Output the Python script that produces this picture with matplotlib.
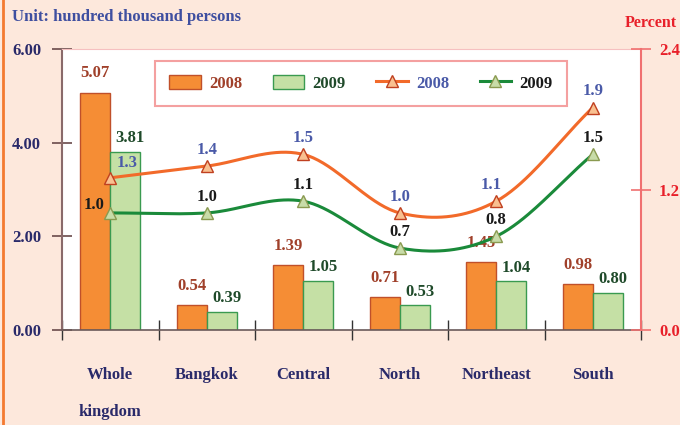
import numpy as np
import matplotlib
matplotlib.use("Agg")
import matplotlib.pyplot as plt
from matplotlib.patches import Patch
from matplotlib.lines import Line2D

regions = ["Whole\nkingdom", "Bangkok", "Central", "North", "Northeast", "South"]
persons_2008 = [5.07, 0.54, 1.39, 0.71, 1.45, 0.98]
persons_2009 = [3.81, 0.39, 1.05, 0.53, 1.04, 0.80]
pct_2008 = [1.3, 1.4, 1.5, 1.0, 1.1, 1.9]
pct_2009 = [1.0, 1.0, 1.1, 0.7, 0.8, 1.5]

plt.rcParams['font.family'] = ['Liberation Serif', 'DejaVu Serif']
plt.rcParams['font.weight'] = 'bold'

bg = '#fde8dc'
orange = '#f58d35'
orange_edge = '#c0502a'
green = '#c5e0a5'
green_edge = '#3a9a50'
navy = '#2a2a6a'
red = '#e8202a'
c08_txt = '#a0402a'
c09_txt = '#1f4a2a'
blue_txt = '#4a5aa8'
fs = 12


def smooth(xs, ys, n=40):
    # catmull-rom through the points (as excel smoothed lines)
    p = np.column_stack([xs, ys]).astype(float)
    p = np.vstack([p[0] - (p[1] - p[0]), p, p[-1] + (p[-1] - p[-2])])
    out = []
    for i in range(1, len(p) - 2):
        p0, p1, p2, p3 = p[i - 1], p[i], p[i + 1], p[i + 2]
        t = np.linspace(0, 1, n)[:, None]
        seg = 0.5 * ((2 * p1) + (-p0 + p2) * t + (2 * p0 - 5 * p1 + 4 * p2 - p3) * t ** 2
                     + (-p0 + 3 * p1 - 3 * p2 + p3) * t ** 3)
        out.append(seg)
    out = np.vstack(out)
    return out[:, 0], out[:, 1]


fig = plt.figure(figsize=(6.8, 4.25), dpi=100, facecolor=bg)
ax = fig.add_axes([62 / 680, 95 / 425, 579 / 680, 281 / 425])
ax.set_facecolor('white')
x = np.arange(len(regions))
w = 0.31

ax.bar(x - w / 2, persons_2008, w, color=orange, edgecolor=orange_edge, linewidth=1.0, zorder=2)
ax.bar(x + w / 2, persons_2009, w, color=green, edgecolor=green_edge, linewidth=1.0, zorder=2)

for i in range(len(x)):
    ax.annotate(f"{persons_2008[i]:.2f}", (x[i] - w / 2, persons_2008[i]), xytext=(0, 8),
                textcoords='offset points', ha='center', va='bottom', color=c08_txt,
                fontsize=fs, fontweight='bold')
    ax.annotate(f"{persons_2009[i]:.2f}", (x[i] + w / 2 + 0.05, persons_2009[i]), xytext=(0, 4),
                textcoords='offset points', ha='center', va='bottom', color=c09_txt,
                fontsize=fs, fontweight='bold')

ax.set_xlim(-0.5, 5.5)
ax.set_ylim(0, 6)
ax.set_yticks([0, 2, 4, 6])
ax.set_yticklabels(["0.00", "2.00", "4.00", "6.00"], color=navy, fontsize=fs, fontweight='bold')
ax.tick_params(axis='y', direction='inout', length=14, width=1.2, color='#6a4a4a', pad=8)
ax.set_xticks(np.arange(-0.5, 6.0, 1.0))
ax.set_xticklabels([])
ax.tick_params(axis='x', direction='inout', length=14, width=1.0, color='#333333')

for i, r in enumerate(regions):
    ax.text(x[i], -0.78, r, ha='center', va='top', color=navy, fontsize=fs,
            fontweight='bold', linespacing=2.75)

ax.spines['left'].set_color('#8a6a6a')
ax.spines['left'].set_linewidth(1.5)
ax.spines['bottom'].set_color('#6a5a5a')
ax.spines['bottom'].set_linewidth(1.2)
ax.spines['top'].set_color('#f6c0c0')
ax.spines['right'].set_visible(False)

ax2 = ax.twinx()
ax2.set_ylim(0, 2.4)
ax2.set_yticks([0, 1.2, 2.4])
ax2.set_yticklabels(["0.0", "1.2", "2.4"], color=red, fontsize=fs, fontweight='bold')
ax2.tick_params(axis='y', direction='inout', length=14, width=1.2, color='#f07070', pad=6)
ax2.spines['right'].set_color('#f07070')
ax2.spines['right'].set_linewidth(1.5)
for s in ['left', 'top', 'bottom']:
    ax2.spines[s].set_visible(False)

sx, sy = smooth(x, pct_2008)
ax2.plot(sx, sy, color='#f26a2a', linewidth=2.2, zorder=3)
ax2.plot(x, pct_2008, linestyle='none', marker='^', markersize=9, markerfacecolor='#f9c090',
         markeredgecolor='#c04020', markeredgewidth=1.0, zorder=4)
sx, sy = smooth(x, pct_2009)
ax2.plot(sx, sy, color='#1a8a3a', linewidth=2.2, zorder=3)
ax2.plot(x, pct_2009, linestyle='none', marker='^', markersize=9, markerfacecolor='#c8dca8',
         markeredgecolor='#8a9a50', markeredgewidth=1.0, zorder=4)

off08 = [(12, 5), (0, 6), (0, 6), (0, 6), (-4, 6), (0, 6)]
off09 = [(-12, 0), (0, 6), (0, 6), (0, 6), (0, 6), (0, 6)]
for i in range(len(x)):
    ax2.annotate(f"{pct_2008[i]:.1f}", (x[i], pct_2008[i]), xytext=off08[i],
                 textcoords='offset points', ha='center', va='bottom', color=blue_txt,
                 fontsize=fs, fontweight='bold', zorder=5)
    ax2.annotate(f"{pct_2009[i]:.1f}", (x[i], pct_2009[i]), xytext=off09[i],
                 textcoords='offset points', ha='center', va='bottom', color='#1a1a1a',
                 fontsize=fs, fontweight='bold', zorder=5)

handles = [
    Patch(facecolor=orange, edgecolor=orange_edge),
    Patch(facecolor=green, edgecolor=green_edge),
    Line2D([], [], color='#f26a2a', linewidth=2.2, marker='^', markersize=9,
           markerfacecolor='#f9c090', markeredgecolor='#c04020'),
    Line2D([], [], color='#1a8a3a', linewidth=2.2, marker='^', markersize=9,
           markerfacecolor='#c8dca8', markeredgecolor='#8a9a50'),
]
leg = ax2.legend(handles, ["2008", "2009", "2008", "2009"], ncol=4, loc='center',
                 bbox_to_anchor=(93 / 579, 0.808, 412 / 579, 0.139), mode='expand',
                 fancybox=False, framealpha=1, edgecolor='#f4a0a0', fontsize=fs,
                 handlelength=1.9, handleheight=0.9, handletextpad=0.5, borderpad=0.85,
                 borderaxespad=0, columnspacing=1.5)
leg.get_frame().set_linewidth(1.5)
for t, c in zip(leg.get_texts(), [c08_txt, c09_txt, blue_txt, '#1a1a1a']):
    t.set_color(c)
    t.set_fontweight('bold')

fig.text(12 / 680, 1 - 17 / 425, "Unit: hundred thousand persons", ha='left', va='center',
         color='#3f4fa0', fontsize=fs, fontweight='bold')
fig.text(677 / 680, 1 - 23 / 425, "Percent", ha='right', va='center', color=red,
         fontsize=11.5, fontweight='bold')
fig.add_artist(Line2D([0.004, 0.004], [0, 1], transform=fig.transFigure, color='#f47a30',
                      linewidth=2))

fig.savefig("out.png", dpi=100, facecolor=bg)
